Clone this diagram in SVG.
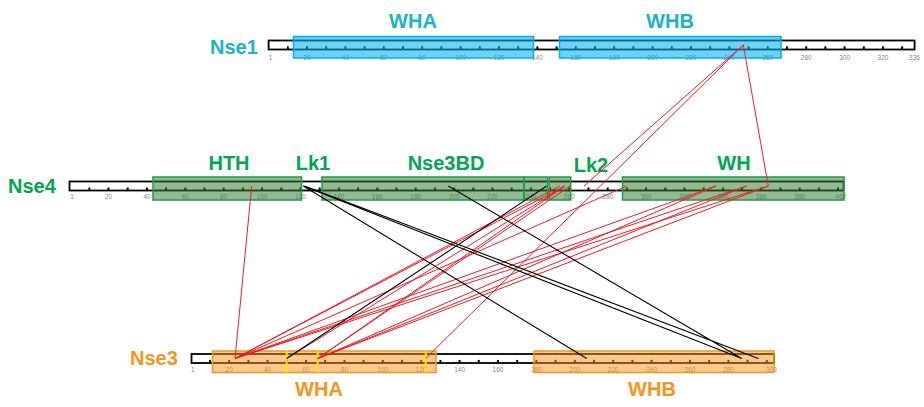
<svg xmlns="http://www.w3.org/2000/svg" width="924" height="407" viewBox="0 0 924 407">
<style>
.bar{fill:#fff;stroke:#000;stroke-width:1.8}
.tl{font-family:"Liberation Sans",Arial,sans-serif;font-size:6.5px;fill:#888;text-anchor:middle}
.pl{font-family:"Liberation Sans",Arial,sans-serif;font-size:20px;font-weight:bold}
.dl{font-family:"Liberation Sans",Arial,sans-serif;font-size:20px;font-weight:bold;text-anchor:middle}
.b1{fill:#00aeef;fill-opacity:0.57;stroke:#00aeef;stroke-width:1.5}
.b4{fill:#2e7d32;fill-opacity:0.52;stroke:#1e9b4b;stroke-width:1.5}
.b3{fill:#f7941d;fill-opacity:0.5;stroke:#f7941d;stroke-width:1.5}
.c1{fill:#1ab4c6}.c4{fill:#00a650}.c3{fill:#f7941d}
.red{stroke:#ee1c25;stroke-width:1;fill:none}
.blk{stroke:#000;stroke-width:1.1;fill:none}
.yl{stroke:#ffe600;stroke-width:2}
</style>
<defs>
<pattern id="t1" patternUnits="userSpaceOnUse" x="286.8" y="0" width="19.2" height="407"><rect x="0" y="46.3" width="2" height="3" fill="#000"/></pattern>
<pattern id="t4" patternUnits="userSpaceOnUse" x="88.3" y="0" width="19.2" height="407"><rect x="0" y="187.5" width="2" height="3" fill="#000"/></pattern>
<pattern id="t3" patternUnits="userSpaceOnUse" x="209" y="0" width="19.2" height="407"><rect x="0" y="359.8" width="2" height="3" fill="#000"/></pattern>
</defs>

<g id="nse1">
<rect class="bar" x="268.6" y="40.5" width="646" height="9"/>
<rect x="286.8" y="46" width="617" height="4" fill="url(#t1)"/>
<g class="tl">
<text x="270.5" y="60">1</text><text x="307" y="60">20</text><text x="345.4" y="60">40</text><text x="383.8" y="60">60</text><text x="422.2" y="60">80</text><text x="460.6" y="60">100</text><text x="499" y="60">120</text><text x="537.4" y="60">140</text><text x="575.8" y="60">160</text><text x="614.2" y="60">180</text><text x="652.6" y="60">200</text><text x="691" y="60">220</text><text x="729.4" y="60">240</text><text x="767.8" y="60">260</text><text x="806.2" y="60">280</text><text x="844.6" y="60">300</text><text x="883" y="60">320</text><text x="914.5" y="60">336</text>
</g>
<text class="pl c1" x="210" y="54">Nse1</text>
</g>
<g id="nse1-wha"><rect class="b1" x="293.5" y="36.5" width="240" height="21.5"/><text class="dl c1" x="413" y="28">WHA</text></g>
<g id="nse1-whb"><rect class="b1" x="559.5" y="36.5" width="221.5" height="21.5"/><text class="dl c1" x="670" y="28">WHB</text></g>

<g id="nse4">
<rect class="bar" x="69.5" y="181.5" width="774" height="9"/>
<rect x="88.3" y="187" width="751" height="4" fill="url(#t4)"/>
<g class="tl">
<text x="72" y="198.5">1</text><text x="108.5" y="198.5">20</text><text x="146.9" y="198.5">40</text><text x="185.3" y="198.5">60</text><text x="223.7" y="198.5">80</text><text x="262.1" y="198.5">100</text><text x="300.5" y="198.5">120</text><text x="338.9" y="198.5">140</text><text x="377.3" y="198.5">160</text><text x="415.7" y="198.5">180</text><text x="454.1" y="198.5">200</text><text x="492.5" y="198.5">220</text><text x="530.9" y="198.5">240</text><text x="569.3" y="198.5">260</text><text x="607.7" y="198.5">280</text><text x="646.1" y="198.5">300</text><text x="684.5" y="198.5">320</text><text x="722.9" y="198.5">340</text><text x="761.3" y="198.5">360</text><text x="799.7" y="198.5">380</text><text x="841" y="198.5">402</text>
</g>
<text class="pl c4" x="8" y="193">Nse4</text>
</g>
<g id="nse4-hth"><rect class="b4" x="153" y="177" width="148.5" height="23"/><text class="dl c4" x="229" y="170">HTH</text></g>
<g id="nse4-lk1"><text class="dl c4" x="313" y="170">Lk1</text></g>
<g id="nse4-nse3bd"><rect class="b4" x="322" y="177" width="202" height="23"/><rect class="b4" x="524" y="177" width="23.7" height="23"/><text class="dl c4" x="446" y="170">Nse3BD</text></g>
<g id="nse4-lk2"><rect class="b4" x="549.3" y="177" width="21.4" height="23"/><text class="dl c4" x="591" y="172">Lk2</text></g>
<g id="nse4-wh"><rect class="b4" x="622.5" y="177" width="221.5" height="23"/><text class="dl c4" x="734" y="170">WH</text></g>

<g id="nse3">
<rect class="bar" x="191.5" y="354" width="582.5" height="9"/>
<rect x="209" y="359.5" width="559" height="4" fill="url(#t3)"/>
<g class="tl">
<text x="192.7" y="372">1</text><text x="229.2" y="372">20</text><text x="267.6" y="372">40</text><text x="306" y="372">60</text><text x="344.4" y="372">80</text><text x="382.8" y="372">100</text><text x="421.2" y="372">120</text><text x="459.6" y="372">140</text><text x="498" y="372">160</text><text x="536.4" y="372">180</text><text x="574.8" y="372">200</text><text x="613.2" y="372">220</text><text x="651.6" y="372">240</text><text x="690" y="372">260</text><text x="728.4" y="372">280</text><text x="771.5" y="372">303</text>
</g>
<text class="pl c3" x="130" y="365">Nse3</text>
</g>
<g id="nse3-wha"><rect class="b3" x="212.5" y="351" width="223.5" height="21.5"/><path class="yl" d="M286.7 351V372.5M317.7 351V372.5M425.7 351V372.5"/><text class="dl c3" x="319" y="396">WHA</text></g>
<g id="nse3-whb"><rect class="b3" x="534" y="351" width="240" height="21.5"/><text class="dl c3" x="652" y="396">WHB</text></g>

<g id="connectors">
<path class="red" d="M251.7 186L235 358.5"/>
<path class="red" d="M743.3 45L768.3 186M743.3 45L584 186M743.3 45L425.7 358.5"/>
<path class="red" d="M235 358.5L565 186M235 358.5L560 186M235 358.5L626.7 186M235 358.5L716 186M235 358.5L746.7 186M235 358.5L768.3 186"/>
<path class="red" d="M317.7 358.5L565 186M317.7 358.5L570 186M317.7 358.5L716 186M317.7 358.5L746.7 186M317.7 358.5L768.3 186"/>
<path class="red" d="M286.7 358.5L565 186"/>
<path class="blk" d="M303.3 186L586.7 358.5M303.3 186L741.7 358.5M304.5 186L758.3 358.5M448.3 186L741.7 358.5M546.7 186L286.7 358.5"/>
</g>
</svg>
